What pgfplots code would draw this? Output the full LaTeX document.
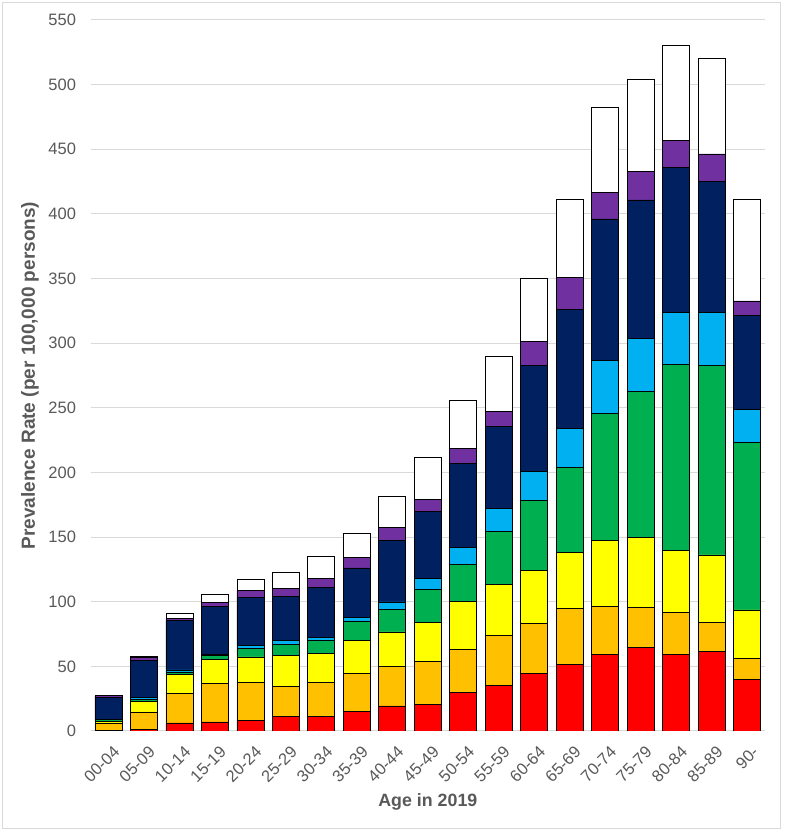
\documentclass[border=0pt]{standalone}
\usepackage{pgfplots}
\usepackage{pgfplotstable}
\pgfplotsset{compat=1.18}
\usepackage{fontspec}
\setmainfont{Liberation Sans}
\definecolor{cRed}{HTML}{FF0000}
\definecolor{cOrange}{HTML}{FFC000}
\definecolor{cYellow}{HTML}{FFFF00}
\definecolor{cGreen}{HTML}{00B050}
\definecolor{cBlue}{HTML}{00B0F0}
\definecolor{cNavy}{HTML}{002060}
\definecolor{cPurple}{HTML}{7030A0}
\definecolor{txt}{HTML}{595959}
\definecolor{gridc}{HTML}{D9D9D9}
\pgfplotstableread{
x red orange yellow green blue navy purple white
0 0.3 5.9 1.5 1.1 0.3 17.2 1.1 0.2
1 1.0 13.7 8.0 1.6 2.0 28.2 2.3 0.7
2 6.2 22.7 14.7 2.1 1.5 38.0 2.0 3.6
3 7.0 29.9 18.3 2.9 1.3 36.9 2.8 6.7
4 8.5 28.9 19.9 6.7 2.3 36.7 5.6 8.6
5 11.1 23.5 23.5 8.7 2.9 34.3 6.2 12.1
6 11.1 26.2 22.4 10.0 2.4 39.0 6.7 17.1
7 15.2 29.3 25.2 15.4 2.5 38.5 8.2 18.8
8 19.4 30.4 26.8 17.4 5.8 47.3 10.2 23.8
9 20.7 33.2 30.4 25.2 8.3 51.9 9.7 32.1
10 30.1 32.9 37.3 28.8 12.7 65.2 11.9 37.1
11 35.1 38.7 39.5 41.2 17.4 63.6 11.6 42.6
12 44.5 38.7 40.9 54.5 22.4 81.8 18.8 48.6
13 51.4 43.5 43.2 65.6 30.5 92.1 24.7 60.3
14 59.5 36.7 50.9 98.2 41.3 109.5 20.7 65.4
15 64.9 30.8 53.7 113.5 40.7 107.2 21.9 71.7
16 59.2 32.8 47.9 143.9 40.1 112.2 20.9 73.4
17 61.3 22.5 52.4 146.3 41.4 101.3 21.2 73.7
18 40.1 16.0 37.5 129.3 26.1 72.4 11.3 78.9
}\datatable
\begin{document}
\begin{tikzpicture}
\useasboundingbox (0,0) rectangle (784pt,832pt);
\fill[white] (0,0) rectangle (784pt,832pt);
\draw[gridc, line width=1pt] (2.7pt,3.5pt) rectangle (780.5pt,829.3pt);
\begin{axis}[
  at={(90.7pt,101pt)}, anchor=south west,
  scale only axis, width=674.3pt, height=711pt,
  xmin=-0.5, xmax=18.5, ymin=0, ymax=550,
  ybar stacked, bar width=27pt,
  xtick={0,...,18},
  xticklabels={00-04,05-09,10-14,15-19,20-24,25-29,30-34,35-39,40-44,45-49,50-54,55-59,60-64,65-69,70-74,75-79,80-84,85-89,90-},
  ytick={0,50,...,550},
  major tick length=0pt,
  ymajorgrids, xmajorgrids=false, grid style={draw=gridc, line width=1pt},
  axis x line*=bottom, axis y line*=left,
  x axis line style={draw=gridc, line width=1pt, -},
  y axis line style={draw=none},
  /pgf/number format/assume math mode=true,
  tick label style={font=\fontsize{16.5}{18}\selectfont, text=txt},
  yticklabel style={inner sep=0pt, anchor=east, xshift=-14.5pt},
  xticklabel style={xshift=4pt, yshift=-14pt, rotate=45, anchor=north east, inner sep=0pt},
  ylabel={Prevalence Rate (per 100,000 persons)},
  ylabel style={at={(axis description cs:-0.090,0.50)}, anchor=center, font=\bfseries\fontsize{19}{21}\selectfont, text=txt},
  xlabel={Age in 2019},
  xlabel style={at={(axis description cs:0.5,-0.100)}, anchor=center, font=\bfseries\fontsize{17.8}{20}\selectfont, text=txt},
  every axis plot/.append style={draw=black, line width=0.8pt},
]
\addplot[fill=cRed] table[x=x,y=red]{\datatable};
\addplot[fill=cOrange] table[x=x,y=orange]{\datatable};
\addplot[fill=cYellow] table[x=x,y=yellow]{\datatable};
\addplot[fill=cGreen] table[x=x,y=green]{\datatable};
\addplot[fill=cBlue] table[x=x,y=blue]{\datatable};
\addplot[fill=cNavy] table[x=x,y=navy]{\datatable};
\addplot[fill=cPurple] table[x=x,y=purple]{\datatable};
\addplot[fill=white] table[x=x,y=white]{\datatable};
\end{axis}
\end{tikzpicture}
\end{document}
